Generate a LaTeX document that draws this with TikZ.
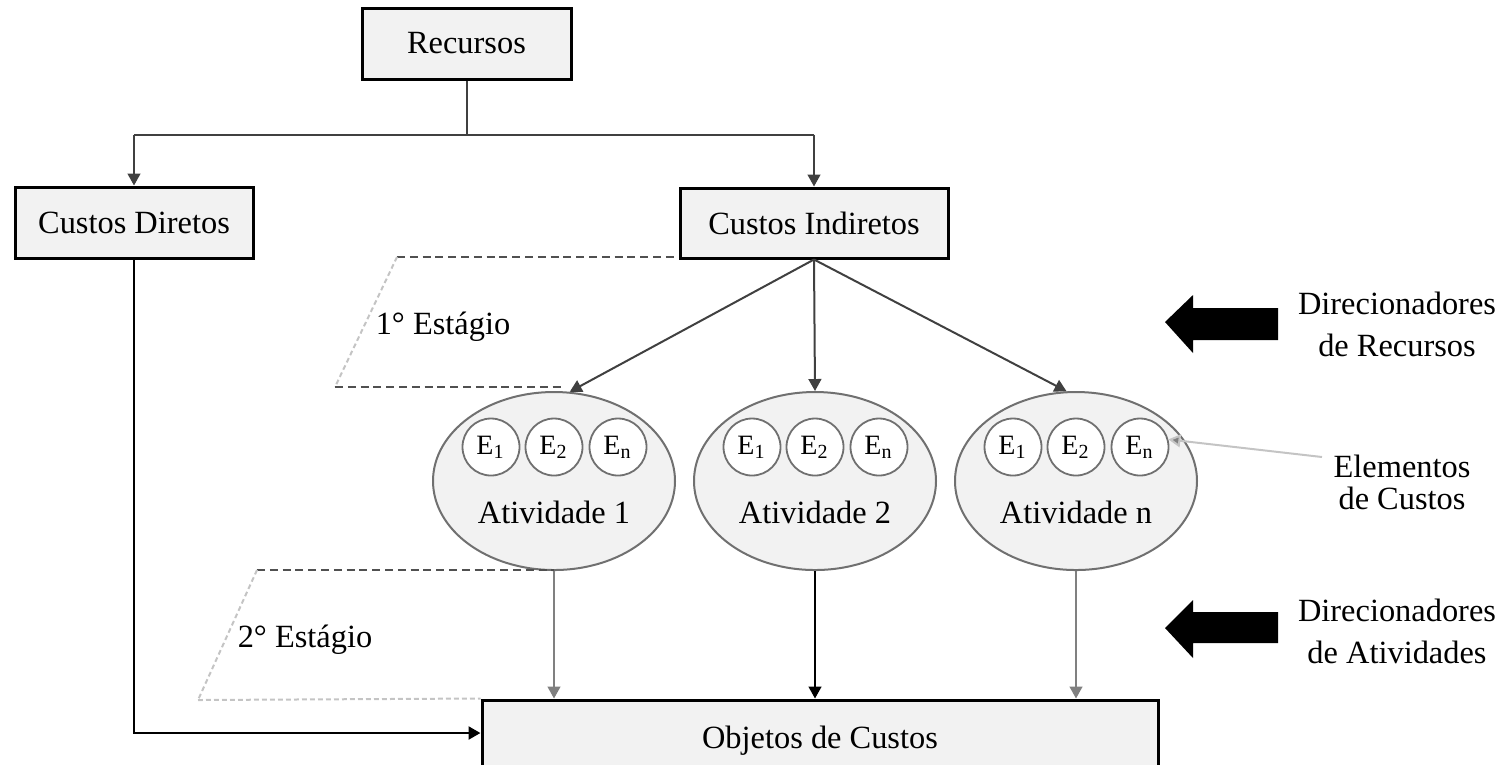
\documentclass[tikz,border=0pt]{standalone}
\usepackage{fontspec}
\setmainfont{Liberation Serif}
\usetikzlibrary{shapes.geometric,arrows.meta,calc}
\definecolor{boxgray}{HTML}{F2F2F2}
\definecolor{ringgray}{HTML}{707070}
\definecolor{linegray}{HTML}{404040}
\definecolor{stemgray}{HTML}{808080}
\definecolor{dashgray}{HTML}{505050}
\definecolor{dotgray}{HTML}{C4C4C4}
\begin{document}
\begin{tikzpicture}[x=0.25pt,y=-0.25pt,
  font=\fontsize{8.1}{10.5}\selectfont,
  box/.style={draw=black,line width=0.75pt,fill=boxgray,inner sep=0pt},
  ativ/.style={ellipse,draw=ringgray,line width=0.5pt,fill=boxgray,
    minimum width=60.5pt,minimum height=44.5pt,inner sep=0pt},
  elem/.style={circle,draw=ringgray,line width=0.45pt,fill=white,
    minimum size=14.25pt,inner sep=0pt,font=\fontsize{7}{7}\selectfont},
  tip/.style={-{Triangle[length=3pt,width=3.2pt]}},
  conn/.style={tip,line width=0.5pt,draw=linegray},
  stem/.style={tip,line width=0.5pt,draw=stemgray},
  stagedash/.style={draw=dashgray,line width=0.5pt,dash pattern=on 2pt off 1.2pt},
  stagedot/.style={draw=dotgray,line width=0.5pt,dash pattern=on 1.2pt off 0.8pt},
  bigarrow/.style={fill=black},
]
\useasboundingbox (0,0) rectangle (1510,764);

% boxes
\node[box,minimum width=52.25pt,minimum height=17.75pt] (rec) at (466.5,43.5) {Recursos};
\node[box,minimum width=59.5pt,minimum height=17.75pt] (cd) at (134,222.5) {Custos Diretos};
\node[box,minimum width=67pt,minimum height=17.5pt] (ci) at (814,223) {Custos Indiretos};
\node[box,minimum width=169pt,minimum height=20.5pt] (obj) at (820,741) {Objetos de Custos};

% activities
\node[ativ] (a1) at (554,481) {};
\node[ativ] (a2) at (815,481) {};
\node[ativ] (an) at (1076,481) {};
\foreach \a/\t in {a1/Atividade 1,a2/Atividade 2,an/Atividade n}{
  \node (\a t) at ($(\a)+(0,31)$) {\t};
  \node[elem] (\a e1) at ($(\a)+(-63,-34)$) {E\textsubscript{1}};
  \node[elem] (\a e2) at ($(\a)+(0,-34)$) {E\textsubscript{2}};
  \node[elem] (\a e3) at ($(\a)+(64,-34)$) {E\textsubscript{n}};
}

% resources split
\coordinate (br) at ($(rec.south)+(0,54)$);
\draw[line width=0.5pt,draw=linegray] (rec.south) -- (br);
\draw[line width=0.5pt,draw=linegray] (cd.north |- br) -- (ci.north |- br);
\draw[conn] (cd.north |- br) -- (cd.north);
\draw[conn] (ci.north |- br) -- (ci.north);

% first stage
\draw[conn] (ci.south) -- (a1.80);
\draw[conn] (ci.south) -- (a2.north);
\draw[conn] (ci.south) -- (an.96);

% second stage
\draw[stem] (a1.south) -- (a1.south |- obj.north);
\draw[tip,line width=0.5pt,draw=black] (a2.south) -- (a2.south |- obj.north);
\draw[stem] (an.south) -- (an.south |- obj.north);

% direct costs
\coordinate (dc) at (cd.south |- 0,733);
\draw[tip,line width=0.7pt] (cd.south) -- (dc) -- (obj.west |- dc);

% stage brackets
\coordinate (s1a) at (397,257);
\coordinate (s1b) at (335,387);
\draw[stagedash] (s1a) -- (ci.south west |- s1a);
\draw[stagedot] (s1a) -- (s1b);
\draw[stagedash] (s1b) -- ($(a1.north |- s1b)+(10,0)$);
\node (st1) at (443,327) {1° Estágio};

\coordinate (s2a) at (257,570);
\coordinate (s2b) at (198,700);
\draw[stagedash] (s2a) -- (a1.south |- s2a);
\draw[stagedot] (s2a) -- (s2b);
\draw[stagedot] (s2b) -- (obj.north west);
\node (st2) at (305,640) {2° Estágio};

% drivers
\fill[bigarrow] (1165,322) -- (1193,295) -- (1193,308) -- (1278,308)
  -- (1278,340) -- (1193,340) -- (1193,353) -- cycle;
\node[align=center] (dr) at (1397,324) {Direcionadores\\de Recursos};
\fill[bigarrow] (1165,628) -- (1193,600) -- (1193,612) -- (1278,612)
  -- (1278,643) -- (1193,643) -- (1193,658) -- cycle;
\node[align=center] (da) at (1397,631) {Direcionadores\\de Atividades};

% cost elements
\node[align=center,font=\fontsize{8.1}{8}\selectfont] (el) at (1402,482) {Elementos\\de Custos};
\coordinate (elx) at (1322,457);
\draw[line width=0.5pt,draw=dotgray,
  arrows={-{Triangle[length=3pt,width=3.2pt,fill=stemgray]}}] (elx) -- (ane3.15);
\end{tikzpicture}
\end{document}
